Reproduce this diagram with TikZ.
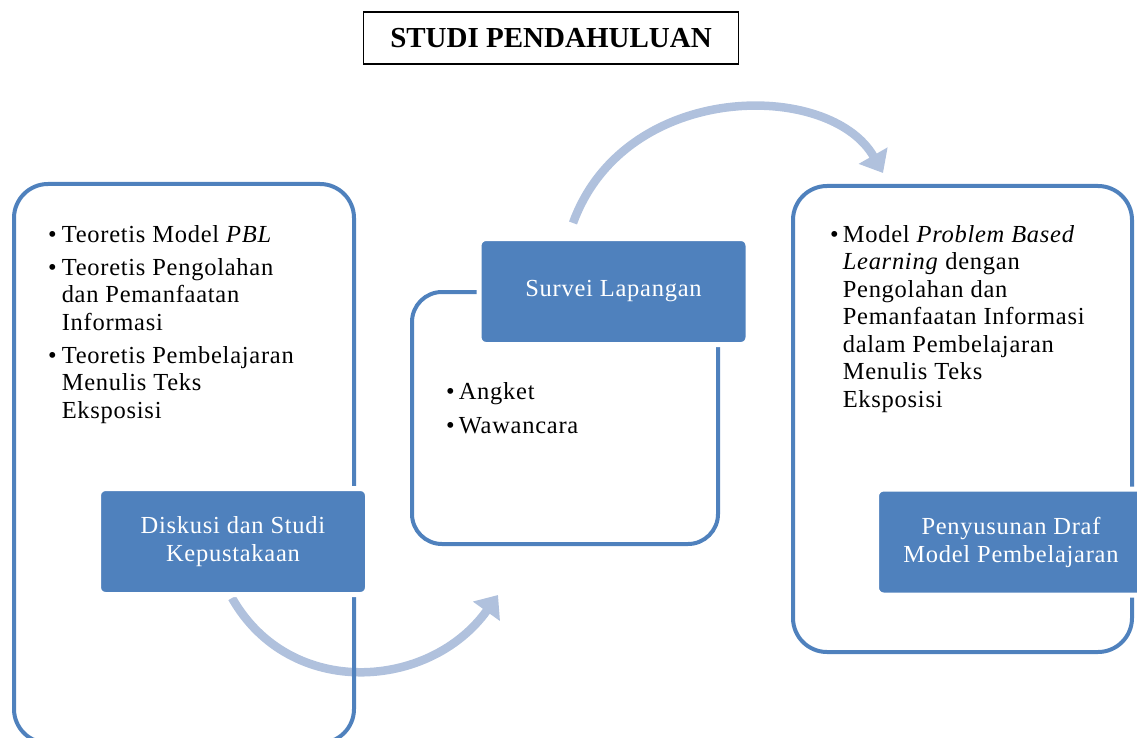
\documentclass[tikz,border=0pt]{standalone}
\usepackage{fontspec}
\setmainfont{Liberation Serif}[LetterSpace=3]
\newfontfamily\judulfont{Liberation Serif}
\usetikzlibrary{arrows,arrows.meta,positioning}
\definecolor{kotakbiru}{RGB}{79,129,189}
\definecolor{panahbiru}{RGB}{176,193,221}

\begin{document}
\begin{tikzpicture}[x=1pt,y=-1pt,
  panel/.style={draw=kotakbiru, line width=4pt, rounded corners=34pt, inner sep=0pt, anchor=north west},
  tahap/.style={fill=kotakbiru, draw=white, line width=5pt, rounded corners=7pt, text=white, align=center,
    minimum width=269pt, minimum height=106pt, inner sep=0pt, font=\fontsize{24.5}{28}\selectfont},
  isi/.style={anchor=base west, inner sep=0pt, font=\fontsize{24.5}{27.5}\selectfont},
  panah/.style={draw=panahbiru, line width=8.5pt, -{Triangle[length=20pt,width=32pt]}}]
\useasboundingbox (0,0) rectangle (1137,738);

\node[draw, line width=1.3pt, minimum width=375pt, minimum height=52pt,
  font=\judulfont\bfseries\fontsize{29}{32}\selectfont] (studi) at (551,38) {STUDI PENDAHULUAN};

% panah lengkung
\coordinate (p1) at (232,598);
\coordinate (p2) at (498,595);
\coordinate (p3) at (573,223);
\coordinate (p4) at (883,173);
\draw[panah] (p1) .. controls (290,700) and (430,690) .. (p2);
\draw[panah] (p3) .. controls (625,80) and (830,80) .. (p4);

% kotak
\node[panel, minimum width=340pt, minimum height=559pt] (kiri) at (12,182) {};
\node[panel, minimum width=306pt, minimum height=252pt, rounded corners=30pt] (tengah) at (410,290) {};
\node[panel, minimum width=339pt, minimum height=466pt] (kanan) at (791,184) {};

\node[isi] (isikiri) at (48,242) {\begin{tabular}[t]{@{}l@{\hspace{5pt}}l@{}}
\textbullet & Teoretis Model \textit{PBL}\\[5.5pt]
\textbullet & Teoretis Pengolahan\\
 & dan Pemanfaatan\\
 & Informasi\\[5.5pt]
\textbullet & Teoretis Pembelajaran\\
 & Menulis Teks\\
 & Eksposisi
\end{tabular}};

\node[isi] (isitengah) at (446,399) {\begin{tabular}[t]{@{}l@{\hspace{4pt}}l@{}}
\textbullet & Angket\\[6.5pt]
\textbullet & Wawancara
\end{tabular}};

\node[isi] (isikanan) at (830,242) {\begin{tabular}[t]{@{}l@{\hspace{4pt}}l@{}}
\textbullet & Model \textit{Problem Based}\\
 & \textit{Learning} dengan\\
 & Pengolahan dan\\
 & Pemanfaatan Informasi\\
 & dalam Pembelajaran\\
 & Menulis Teks\\
 & Eksposisi
\end{tabular}};

\node[tahap] (diskusi) at (233,541.5) {Diskusi dan Studi\\Kepustakaan};
\node[tahap] (survei) at (613.5,291.5) {Survei Lapangan};
\node[tahap] (draf) at (1011,542) {Penyusunan Draf\\Model Pembelajaran};
\end{tikzpicture}
\end{document}
